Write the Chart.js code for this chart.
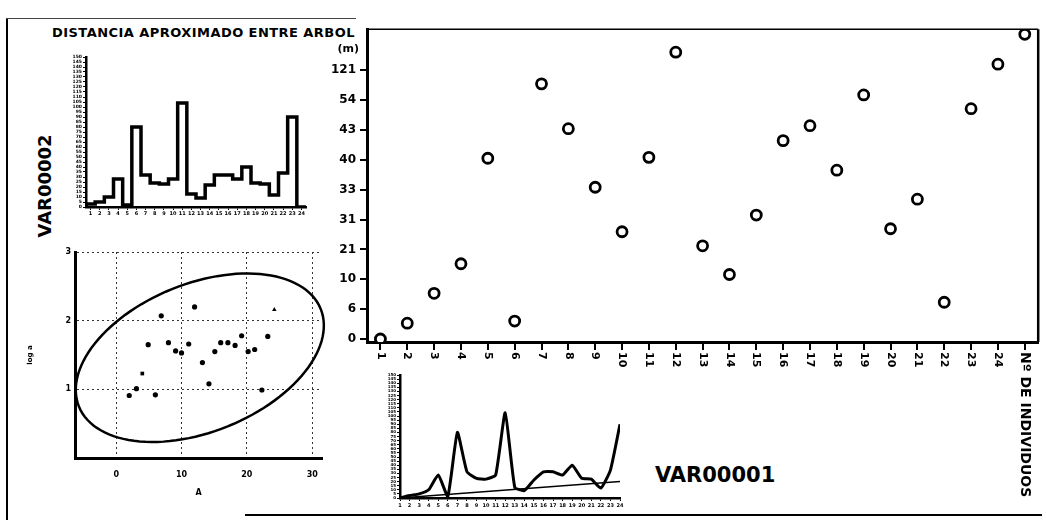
<!DOCTYPE html>
<html>
<head>
<meta charset="utf-8">
<script src="https://cdn.jsdelivr.net/npm/chart.js@4.4.1/dist/chart.umd.min.js"></script>
<style>
  html, body { margin: 0; padding: 0; background: #fff; }
  #hoja { position: relative; width: 1046px; height: 520px; overflow: hidden; background: #fff; }
  canvas { position: absolute; }
  .linea { position: absolute; background: #000; }
  .txt { position: absolute; font-family: "DejaVu Sans", sans-serif; font-weight: bold; color: #000; white-space: nowrap; }
</style>
</head>
<body>
<div id="hoja">
  <div class="linea" style="left:6px; top:18px; width:2px; height:502px;"></div>
  <div class="linea" style="left:6px; top:18px; width:350px; height:1px; background:#444;"></div>
  <div class="linea" style="left:245px; top:514px; width:797px; height:2px;"></div>

  <div class="txt" style="left:52px; top:25px; font-size:13px; letter-spacing:0.45px;">DISTANCIA APROXIMADO ENTRE ARBOL</div>
  <div class="txt" style="left:44px; top:186px; font-size:18px; transform:translate(-50%,-50%) rotate(-90deg);">VAR00002</div>
  <div class="txt" style="left:655px; top:463px; font-size:21px;">VAR00001</div>

  <canvas id="escalones" width="255" height="175" style="left:60px; top:50px;"></canvas>
  <canvas id="elipse" width="310" height="262" style="left:22px; top:240px;"></canvas>
  <canvas id="lineas" width="270" height="150" style="left:360px; top:365px;"></canvas>
  <canvas id="principal" width="716" height="500" style="left:330px; top:18px;"></canvas>
</div>
<script>
// datos del grafico principal (niveles ordinales de la distancia)
const individuos = ['1','2','3','4','5','6','7','8','9','10','11','12','13','14','15','16','17','18','19','20','21','22','23','24','Nº DE INDIVIDUOS'];
const distNivel = [0, 0.53, 1.53, 2.52, 6.05, 0.6, 8.54, 7.04, 5.08, 3.59, 6.08, 9.6, 3.12, 2.16, 4.15, 6.64, 7.14, 5.65, 8.17, 3.69, 4.68, 1.23, 7.71, 9.2, 10.2];
const distTicks = ['0', '6', '10', '21', '31', '33', '40', '43', '54', '121'];
const unidad = '(m)';

// VAR00002 (escalones y linea)
const var2Valores = [0, 3, 5, 10, 28, 2, 80, 32, 24, 23, 28, 104, 13, 9, 22, 32, 32, 28, 40, 24, 23, 12, 34, 90];
const tendencia = [0, 20];

// dispersion log a vs A
const aX = [2.0, 3.1, 4.0, 4.9, 6.0, 6.9, 8.0, 9.1, 10.0, 11.1, 12.0, 13.2, 14.2, 15.1, 16.0, 17.1, 18.2, 19.2, 20.2, 21.2, 22.3, 23.2, 24.2];
const logA = [0.91, 1.01, 1.23, 1.65, 0.92, 2.07, 1.68, 1.56, 1.53, 1.66, 2.20, 1.39, 1.08, 1.55, 1.68, 1.68, 1.64, 1.78, 1.55, 1.58, 0.99, 1.77, 2.16];
const elipseCentro = [12.8, 1.46];
const elipseEje1 = [18.5, 0.711];
const elipseEje2 = [-4.26, 1.0];

Chart.defaults.font.family = '"DejaVu Sans", sans-serif';
Chart.defaults.font.weight = 'bold';
Chart.defaults.color = '#000';
Chart.defaults.animation = false;
Chart.defaults.responsive = false;
Chart.defaults.devicePixelRatio = 1;
Chart.defaults.plugins.legend.display = false;
Chart.defaults.plugins.tooltip.enabled = false;

const numeros = (desde, hasta) => {
    const r = [];
    for (let i = desde; i <= hasta; i++) r.push({ value: i });
    return r;
};

// --- grafico principal ---
const marcoPrincipal = {
    id: 'marcoPrincipal',
    afterDraw(chart) {
        const { ctx, chartArea: a, scales } = chart;
        ctx.save();
        ctx.strokeStyle = '#000';
        ctx.lineWidth = 1.5;
        ctx.beginPath();
        ctx.moveTo(a.left, a.top);
        ctx.lineTo(a.right, a.top);
        ctx.stroke();
        ctx.lineWidth = 2.5;
        ctx.beginPath();
        ctx.moveTo(a.right, a.top);
        ctx.lineTo(a.right, a.bottom);
        ctx.stroke();

        // unidad sobre el eje y
        ctx.fillStyle = '#000';
        ctx.font = 'bold 11px "DejaVu Sans"';
        ctx.textAlign = 'right';
        ctx.textBaseline = 'middle';
        ctx.fillText(unidad, a.left - 8, scales.y.getPixelForValue(distTicks.length - 0.3));

        // etiquetas del eje x giradas (se leen de arriba abajo)
        const sx = scales.x;
        ctx.textAlign = 'left';
        sx.ticks.forEach((t, i) => {
            const txt = sx.getLabelForValue(t.value);
            ctx.save();
            ctx.font = txt.length > 3 ? 'bold 14px "DejaVu Sans"' : 'bold 11px "DejaVu Sans"';
            ctx.translate(sx.getPixelForTick(i), a.bottom + 10);
            ctx.rotate(Math.PI / 2);
            ctx.fillText(txt, 0, 0);
            ctx.restore();
        });
        ctx.restore();
    }
};

new Chart(document.getElementById('principal'), {
    type: 'line',
    data: {
        labels: individuos,
        datasets: [{
            data: distNivel,
            showLine: false,
            pointRadius: 5,
            pointBorderWidth: 2.8,
            pointBorderColor: '#000',
            pointBackgroundColor: '#fff'
        }]
    },
    options: {
        layout: { padding: { top: 9, right: 4, left: 0, bottom: 0 } },
        scales: {
            x: {
                type: 'category',
                offset: true,
                grid: { drawOnChartArea: false, tickLength: 8, color: '#000', lineWidth: 2 },
                border: { width: 3, color: '#000' },
                ticks: { display: false },
                afterFit(s) { s.height = 176; }
            },
            y: {
                min: -0.1,
                max: 10.37,
                afterBuildTicks(s) { s.ticks = distTicks.map((t, i) => ({ value: i })); },
                ticks: { callback: (v, i) => distTicks[i], font: { size: 12, weight: 'bold' }, padding: 4 },
                grid: { drawOnChartArea: false, tickLength: 7, color: '#000', lineWidth: 2 },
                border: { width: 3, color: '#000' },
                afterFit(s) { s.width = 37; }
            }
        }
    },
    plugins: [marcoPrincipal]
});

// --- VAR00002 en escalones ---
const puntosEscalon = var2Valores.map((v, i) => ({ x: i + 0.5, y: v }));
puntosEscalon.push({ x: var2Valores.length + 0.5, y: 0 });

new Chart(document.getElementById('escalones'), {
    type: 'line',
    data: {
        datasets: [{
            data: puntosEscalon,
            stepped: 'after',
            borderColor: '#000',
            borderWidth: 3.5,
            pointRadius: 0
        }]
    },
    options: {
        layout: { padding: { top: 7, right: 9 } },
        scales: {
            x: {
                type: 'linear',
                min: 0.5,
                max: var2Valores.length + 0.5,
                afterBuildTicks(s) { s.ticks = numeros(1, var2Valores.length); },
                ticks: { font: { size: 5, weight: 'bold' }, maxRotation: 0, autoSkip: false, padding: 1 },
                grid: { drawOnChartArea: false, tickLength: 3, color: '#000' },
                border: { width: 2.5, color: '#000' },
                afterFit(s) { s.height = 18; }
            },
            y: {
                min: 0,
                max: 150,
                ticks: { stepSize: 5, autoSkip: false, font: { size: 4.5, weight: 'bold' }, padding: 1 },
                grid: { drawOnChartArea: false, tickLength: 3, color: '#000' },
                border: { width: 2.5, color: '#000' },
                afterFit(s) { s.width = 26; }
            }
        }
    }
});

// --- dispersion con elipse ---
const dibujaElipse = {
    id: 'dibujaElipse',
    afterDatasetsDraw(chart) {
        const { ctx, scales: { x, y } } = chart;
        ctx.save();
        ctx.strokeStyle = '#000';
        ctx.lineWidth = 2.5;
        ctx.beginPath();
        for (let k = 0; k <= 120; k++) {
            const t = k / 120 * Math.PI * 2;
            const dx = elipseCentro[0] + Math.cos(t) * elipseEje1[0] + Math.sin(t) * elipseEje2[0];
            const dy = elipseCentro[1] + Math.cos(t) * elipseEje1[1] + Math.sin(t) * elipseEje2[1];
            const px = x.getPixelForValue(dx), py = y.getPixelForValue(dy);
            if (k === 0) ctx.moveTo(px, py); else ctx.lineTo(px, py);
        }
        ctx.closePath();
        ctx.stroke();
        ctx.restore();
    }
};

const estilos = aX.map((v, i) => i === 2 ? 'rect' : (i === aX.length - 1 ? 'triangle' : 'circle'));
const rejilla = { color: '#333', lineWidth: 1, drawTicks: false };
const bordeRejilla = { width: 3, color: '#000', dash: [2, 3] };

new Chart(document.getElementById('elipse'), {
    type: 'scatter',
    data: {
        datasets: [{
            data: aX.map((v, i) => ({ x: v, y: logA[i] })),
            pointStyle: estilos,
            pointRadius: 2.6,
            pointBackgroundColor: '#000',
            pointBorderColor: '#000',
            pointBorderWidth: 0
        }]
    },
    options: {
        layout: { padding: { top: 12, right: 10 } },
        scales: {
            x: {
                min: -6.3,
                max: 31.5,
                afterBuildTicks(s) { s.ticks = [0, 10, 20, 30].map(v => ({ value: v })); },
                ticks: { font: { size: 8, weight: 'bold' }, padding: 12 },
                grid: rejilla,
                border: bordeRejilla,
                title: { display: true, text: 'A', font: { size: 8, weight: 'bold' }, padding: { top: 4, bottom: 4 } },
                afterFit(s) { s.height = 44; }
            },
            y: {
                min: 0,
                max: 3,
                afterBuildTicks(s) { s.ticks = [1, 2, 3].map(v => ({ value: v })); },
                ticks: { font: { size: 8, weight: 'bold' }, padding: 4 },
                grid: rejilla,
                border: bordeRejilla,
                title: { display: true, text: 'log a', font: { size: 7, weight: 'bold' }, padding: { top: 4, bottom: 4 } },
                afterFit(s) { s.width = 53; }
            }
        }
    },
    plugins: [dibujaElipse]
});

// --- VAR00001 linea ---
new Chart(document.getElementById('lineas'), {
    type: 'line',
    data: {
        datasets: [{
            data: var2Valores.map((v, i) => ({ x: i + 1, y: v })),
            borderColor: '#000',
            borderWidth: 3,
            pointRadius: 0,
            tension: 0.15
        }, {
            data: [{ x: 1, y: tendencia[0] }, { x: var2Valores.length, y: tendencia[1] }],
            borderColor: '#000',
            borderWidth: 1.5,
            pointRadius: 0
        }]
    },
    options: {
        layout: { padding: { top: 10, right: 10 } },
        scales: {
            x: {
                type: 'linear',
                min: 1,
                max: var2Valores.length,
                afterBuildTicks(s) { s.ticks = numeros(1, var2Valores.length); },
                ticks: { font: { size: 5, weight: 'bold' }, maxRotation: 0, autoSkip: false, padding: 2 },
                grid: { drawOnChartArea: false, tickLength: 3, color: '#000' },
                border: { width: 2.5, color: '#000' },
                afterFit(s) { s.height = 17; }
            },
            y: {
                min: 0,
                max: 150,
                ticks: { stepSize: 5, autoSkip: false, font: { size: 4, weight: 'bold' }, padding: 1 },
                grid: { drawOnChartArea: false, tickLength: 3, color: '#000' },
                border: { width: 2.5, color: '#000' },
                afterFit(s) { s.width = 40; }
            }
        }
    }
});
</script>
</body>
</html>
